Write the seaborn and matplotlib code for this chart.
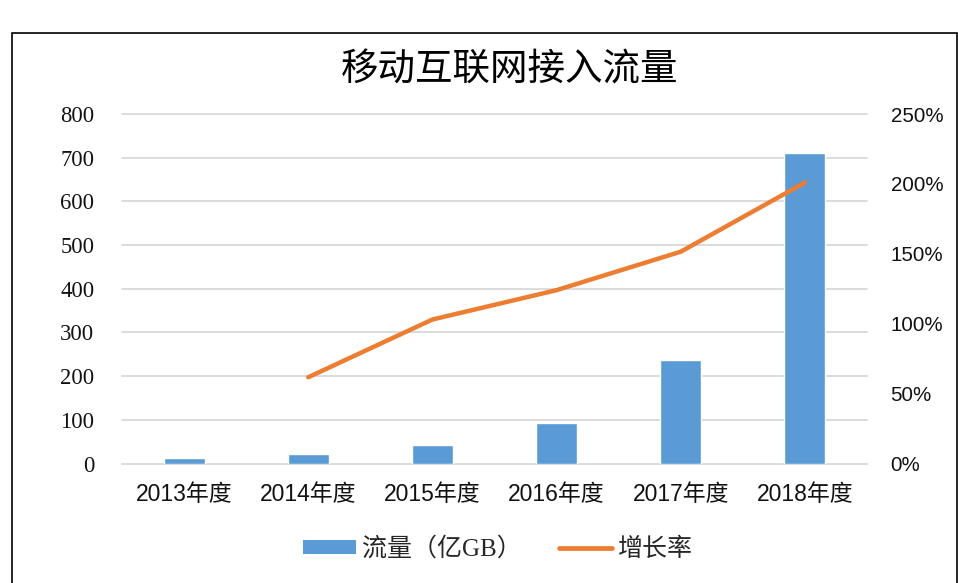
import numpy as np
import pandas as pd
import matplotlib
matplotlib.use('Agg')
import matplotlib.pyplot as plt
import seaborn as sns
from matplotlib.patches import Rectangle, Patch
from matplotlib.lines import Line2D
from matplotlib.ticker import FuncFormatter

# dados
anos = ['2013年度', '2014年度', '2015年度', '2016年度', '2017年度', '2018年度']
fluxo = [13.3, 21, 43, 93, 236, 711]          # 流量（亿GB）
crescimento = [np.nan, 61.7, 103, 124, 151.5, 201]  # 增长率 (%)

cor_barra = '#5B9BD5'
cor_linha = '#ED7D31'

sns.set_style('white')
plt.rcParams['font.family'] = ['Liberation Serif', 'Noto Sans CJK SC']

df = pd.DataFrame({'ano': anos, 'fluxo': fluxo, 'cresc': crescimento})
df['pos'] = np.arange(len(df))

fig = plt.figure(figsize=(9.58, 5.83), dpi=100)
ax = fig.add_axes([122 / 958, 1 - 463.5 / 583, 745 / 958, 349.5 / 583])

sns.barplot(data=df, x='ano', y='fluxo', color=cor_barra, width=0.33,
            saturation=1, ax=ax)
ax.set_ylim(0, 800)
ax.set_yticks(range(0, 801, 100))
ax.set_xlim(-0.5, len(anos) - 0.5)
ax.grid(axis='y', color='#d9d9d9', linewidth=1.3)
ax.set_axisbelow(True)
for gl in ax.get_ygridlines():
    gl.set_clip_on(False)
ax.set_xlabel('')
ax.set_ylabel('')
for s in ax.spines.values():
    s.set_visible(False)
ax.tick_params(axis='y', length=0, pad=20, labelsize=16.3, labelcolor='#111111')
ax.tick_params(axis='x', length=0, pad=14)
for lbl in ax.get_xticklabels():
    lbl.set_fontfamily(['Liberation Sans', 'Noto Sans CJK SC'])
    lbl.set_fontsize(16.5)
    lbl.set_color('#111111')

ax2 = ax.twinx()
sns.lineplot(data=df.dropna(), x='pos', y='cresc', color=cor_linha,
             linewidth=3.2, ax=ax2, solid_capstyle='round')
ax2.set_ylim(0, 250)
ax2.set_yticks(range(0, 251, 50))
ax2.yaxis.set_major_formatter(FuncFormatter(lambda v, p: f'{int(v)}%'))
ax2.set_ylabel('')
ax2.set_xlabel('')
for s in ax2.spines.values():
    s.set_visible(False)
ax2.tick_params(axis='y', length=0, pad=17, labelsize=14.8)
for lbl in ax2.get_yticklabels():
    lbl.set_fontfamily(['Liberation Sans'])
    lbl.set_color('#111111')

fig.text(510 / 958, 1 - 70 / 583, '移动互联网接入流量', ha='center', va='center',
         fontsize=27, family=['Noto Sans CJK SC'], color='black')

handles = [Patch(facecolor=cor_barra, edgecolor='none'),
           Line2D([0], [0], color=cor_linha, linewidth=3.4, solid_capstyle='round')]
fig.legend(handles, ['流量（亿GB）', '增长率'], loc='center',
           bbox_to_anchor=(498 / 958, 1 - 549 / 583), ncol=2, frameon=False,
           handlelength=2.1, handleheight=0.5, handletextpad=0.25,
           columnspacing=1.5,
           prop={'family': ['Liberation Serif', 'Noto Sans CJK SC'], 'size': 18})

fig.patches.append(Rectangle((12 / 958, -0.01), 945 / 958, 1 - 33 / 583 + 0.01,
                             transform=fig.transFigure, fill=False,
                             edgecolor='black', linewidth=1.2))

fig.savefig('out.png', dpi=100)
